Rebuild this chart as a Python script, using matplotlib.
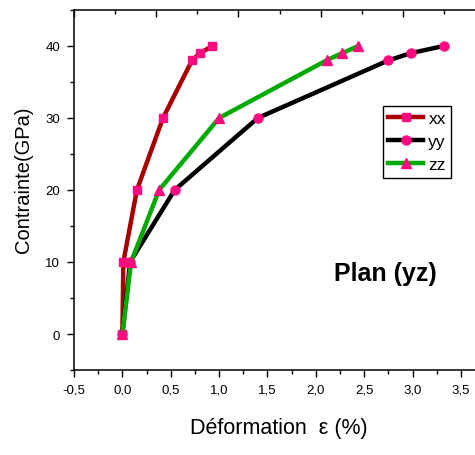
import matplotlib.pyplot as plt
from matplotlib.ticker import FixedLocator, FuncFormatter, MultipleLocator

plt.rcParams['font.family'] = ['Liberation Sans', 'DejaVu Sans']

# stress levels (GPa) and strain (%) along each direction
stress = [0, 10, 20, 30, 38, 39, 40]
strain_xx = [0.0, 0.01, 0.15, 0.42, 0.72, 0.80, 0.93]
strain_yy = [0.0, 0.08, 0.54, 1.40, 2.75, 2.98, 3.32]
strain_zz = [0.0, 0.09, 0.38, 1.00, 2.11, 2.27, 2.44]

pink = '#ff0a80'

fig = plt.figure(figsize=(4.75, 4.56), dpi=100)
ax = fig.add_axes([0.1558, 0.1864, 0.8442, 0.7895])

ax.plot(strain_xx, stress, color='#a80000', lw=3.2, marker='s', ms=5.5,
        mfc=pink, mec=pink, label='xx')
ax.plot(strain_yy, stress, color='black', lw=3.2, marker='o', ms=6.5,
        mfc=pink, mec=pink, label='yy')
ax.plot(strain_zz, stress, color='#00aa00', lw=3.2, marker='^', ms=7,
        mfc=pink, mec=pink, label='zz')

ax.set_xlim(-0.5, 3.645)
ax.set_ylim(-5, 45)
ax.xaxis.set_major_locator(MultipleLocator(0.5))
ax.xaxis.set_minor_locator(MultipleLocator(0.25))
ax.yaxis.set_major_locator(MultipleLocator(10))
ax.yaxis.set_minor_locator(MultipleLocator(5))
ax.xaxis.set_major_formatter(FuncFormatter(lambda v, p: f'{v:.1f}'.replace('.', ',')))
ax.tick_params(which='both', direction='out', labelsize=9.5, width=1, pad=5)
ax.tick_params(which='major', length=5)
ax.tick_params(which='minor', length=3)
ax.spines['right'].set_visible(False)
for s in ('left', 'bottom', 'top'):
    ax.spines[s].set_linewidth(1.1)

# top axis with its own inward ticks
top = ax.twiny()
top.set_xlim(0, 1)
step = 41.1 / 401
top.xaxis.set_major_locator(FixedLocator([k * 2 * step for k in range(6)]))
top.xaxis.set_minor_locator(FixedLocator([(2 * k + 1) * step for k in range(5)]))
top.tick_params(which='both', direction='in', labeltop=False, width=1)
top.tick_params(which='major', length=5)
top.tick_params(which='minor', length=3)
for s in top.spines.values():
    s.set_visible(False)

ax.set_ylabel('Contrainte(GPa)', fontsize=14.5)
ax.yaxis.set_label_coords(-0.102, 0.53)
ax.set_xlabel('Déformation  ε (%)', fontsize=15.5)
ax.xaxis.set_label_coords(0.51, -0.13)

ax.text(0.776, 0.27, 'Plan (yz)', transform=ax.transAxes, fontsize=18,
        fontweight='bold', ha='center', va='center')

leg = ax.legend(loc='upper left', bbox_to_anchor=(0.771, 0.733), fontsize=12.5,
                fancybox=False, edgecolor='black', framealpha=1,
                handlelength=2.0, handletextpad=0.3, borderpad=0.3,
                labelspacing=0.45, borderaxespad=0)
leg.get_frame().set_linewidth(1)

fig.savefig('out.png', dpi=100)
